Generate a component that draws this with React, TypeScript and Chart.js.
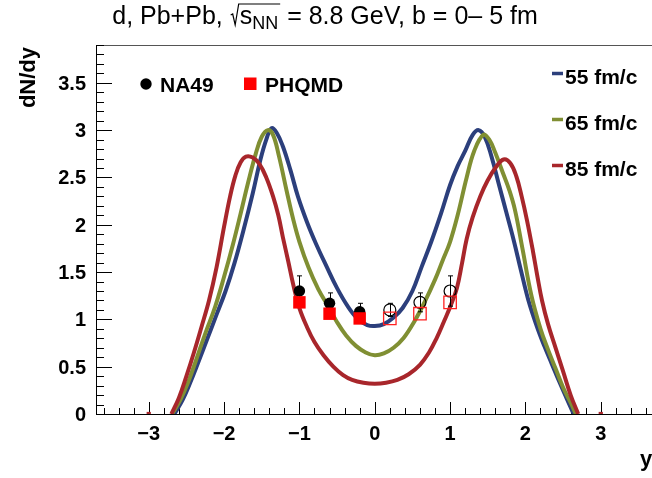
import React, { useEffect, useRef } from "react";
import { Chart, registerables } from "chart.js";
Chart.register(...registerables);

const FONT = '"Liberation Sans", Arial, Helvetica, sans-serif';

// ---- model curves (PHQMD, different times) ----
const x55 = [-2.66, -2.55, -2.45, -2.35, -2.22, -2.1, -1.98, -1.86, -1.74, -1.62, -1.52, -1.44, -1.37, -1.3, -1.22, -1.12, -1.02, -0.9, -0.78, -0.64, -0.5, -0.36, -0.22, -0.1, 0.0, 0.12, 0.25, 0.37, 0.5, 0.62, 0.75, 0.88, 1.0, 1.1, 1.2, 1.3, 1.38, 1.46, 1.55, 1.64, 1.74, 1.84, 1.94, 2.04, 2.15, 2.25, 2.35, 2.45, 2.55, 2.64];
const y55 = [0, 0.15, 0.33, 0.53, 0.8, 1.05, 1.3, 1.6, 1.95, 2.33, 2.68, 2.9, 3.02, 2.97, 2.83, 2.58, 2.3, 2.03, 1.8, 1.56, 1.33, 1.14, 1.0, 0.94, 0.93, 0.95, 1.02, 1.12, 1.3, 1.55, 1.82, 2.12, 2.42, 2.62, 2.78, 2.95, 3.0, 2.93, 2.72, 2.45, 2.15, 1.85, 1.52, 1.2, 0.93, 0.72, 0.53, 0.34, 0.16, 0];

const x65 = [-2.69, -2.58, -2.48, -2.38, -2.25, -2.12, -2.0, -1.88, -1.78, -1.68, -1.58, -1.5, -1.42, -1.35, -1.27, -1.17, -1.08, -1.0, -0.88, -0.75, -0.62, -0.5, -0.38, -0.25, -0.12, 0.0, 0.12, 0.25, 0.38, 0.52, 0.66, 0.8, 0.9, 1.0, 1.1, 1.22, 1.32, 1.44, 1.52, 1.6, 1.7, 1.78, 1.86, 1.96, 2.08, 2.2, 2.3, 2.4, 2.5, 2.6, 2.67];
const y65 = [0, 0.15, 0.33, 0.55, 0.85, 1.13, 1.45, 1.8, 2.12, 2.45, 2.75, 2.93, 3.0, 2.95, 2.72, 2.36, 2.05, 1.82, 1.55, 1.32, 1.14, 0.97, 0.83, 0.72, 0.65, 0.62, 0.64, 0.7, 0.8, 0.97, 1.18, 1.42, 1.62, 1.82, 2.1, 2.5, 2.78, 2.95, 2.9, 2.76, 2.55, 2.38, 2.16, 1.75, 1.25, 0.9, 0.68, 0.48, 0.28, 0.12, 0];

const x85 = [-2.7, -2.6, -2.5, -2.4, -2.3, -2.2, -2.1, -2.0, -1.92, -1.85, -1.78, -1.71, -1.62, -1.53, -1.44, -1.35, -1.28, -1.22, -1.15, -1.08, -1.0, -0.9, -0.8, -0.68, -0.55, -0.42, -0.3, -0.15, 0.0, 0.15, 0.3, 0.45, 0.6, 0.72, 0.82, 0.92, 1.0, 1.09, 1.16, 1.22, 1.3, 1.4, 1.5, 1.6, 1.71, 1.8, 1.88, 1.95, 2.02, 2.1, 2.16, 2.22, 2.3, 2.4, 2.5, 2.6, 2.7];
const y85 = [0, 0.17, 0.4, 0.65, 0.92, 1.2, 1.55, 1.98, 2.3, 2.52, 2.66, 2.72, 2.71, 2.64, 2.5, 2.3, 2.1, 1.87, 1.62, 1.36, 1.12, 0.92, 0.76, 0.62, 0.5, 0.41, 0.36, 0.33, 0.32, 0.33, 0.36, 0.42, 0.52, 0.65, 0.8, 0.98, 1.13, 1.33, 1.6, 1.85, 2.08, 2.3, 2.47, 2.6, 2.69, 2.65, 2.51, 2.3, 2.05, 1.72, 1.45, 1.2, 0.95, 0.7, 0.45, 0.2, 0];

const edgeX = [-3, 3];
const edgeY = [0, 0];

// ---- NA49 data (filled: measured, open: reflected) ----
const na49X = [-1.0, -0.6, -0.2];
const na49Y = [1.3, 1.17, 1.08];
const na49Err = [0.16, 0.11, 0.09];
const na49ReflX = [0.2, 0.6, 1.0];
const na49ReflY = [1.1, 1.18, 1.3];
const na49ReflErr = [0.07, 0.1, 0.16];

// ---- PHQMD at NA49 points ----
const phqX = [-1.0, -0.6, -0.2];
const phqY = [1.18, 1.06, 1.01];
const phqReflX = [0.2, 0.6, 1.0];
const phqReflY = [1.01, 1.06, 1.18];

// ---- axes ----
const xMajorTicks = [-3, -2, -1, 0, 1, 2, 3];
const xTickLabels = ["\u22123", "\u22122", "\u22121", "0", "1", "2", "3"];
const yMajorTicks = [0, 0.5, 1, 1.5, 2, 2.5, 3, 3.5];
const yTickLabels = ["0", "0.5", "1", "1.5", "2", "2.5", "3", "3.5"];
const legendTimes = ["55 fm/c", "65 fm/c", "85 fm/c"];

const C55 = "#2c3f7c";
const C65 = "#808f33";
const C85 = "#a8262b";
const curveColors = [C55, C65, C85];

const pts = (xs: number[], ys: number[]) => xs.map((x, i) => ({ x, y: ys[i] }));

function drawErrors(chart: any, xs: number[], ys: number[], es: number[]) {
  const ctx = chart.ctx;
  const sx = chart.scales.x, sy = chart.scales.y;
  ctx.save();
  ctx.strokeStyle = "#000";
  ctx.lineWidth = 1;
  xs.forEach((x, i) => {
    const px = Math.round(sx.getPixelForValue(x)) + 0.5;
    const top = sy.getPixelForValue(ys[i] + es[i]);
    const bot = sy.getPixelForValue(ys[i] - es[i]);
    ctx.beginPath();
    ctx.moveTo(px, top);
    ctx.lineTo(px, bot);
    ctx.moveTo(px - 2.5, top);
    ctx.lineTo(px + 2.5, top);
    ctx.moveTo(px - 2.5, bot);
    ctx.lineTo(px + 2.5, bot);
    ctx.stroke();
  });
  ctx.restore();
}

const decor = {
  id: "decor",
  beforeDatasetsDraw(chart: any) {
    const ctx = chart.ctx;
    const { left, right, top, bottom } = chart.chartArea;
    const sx = chart.scales.x, sy = chart.scales.y;
    ctx.save();
    ctx.strokeStyle = "#555";
    ctx.lineWidth = 1;
    ctx.beginPath();
    ctx.moveTo(left, top + 0.5);
    ctx.lineTo(right, top + 0.5);
    ctx.stroke();
    ctx.strokeStyle = "#000";
    ctx.beginPath();
    ctx.moveTo(left + 0.5, top);
    ctx.lineTo(left + 0.5, bottom);
    ctx.moveTo(left, bottom + 0.5);
    ctx.lineTo(right, bottom + 0.5);
    ctx.stroke();
    ctx.beginPath();
    for (let k = 0; k <= 39; k++) {
      const v = k / 10;
      const py = Math.round(sy.getPixelForValue(v)) + 0.5;
      const len = k % 5 === 0 ? 16 : 8;
      ctx.moveTo(left, py);
      ctx.lineTo(left + len, py);
    }
    for (let k = -18; k <= 18; k++) {
      const v = k / 5;
      const px = Math.round(sx.getPixelForValue(v)) + 0.5;
      const len = k % 5 === 0 ? 12 : 6;
      ctx.moveTo(px, bottom);
      ctx.lineTo(px, bottom - len);
    }
    ctx.stroke();
    ctx.restore();
  },
  beforeDatasetDraw(chart: any, args: any) {
    const ds = chart.data.datasets[args.index];
    if (ds.label === "NA49") drawErrors(chart, na49X, na49Y, na49Err);
    if (ds.label === "NA49 reflected") drawErrors(chart, na49ReflX, na49ReflY, na49ReflErr);
  },
  afterDraw(chart: any) {
    const ctx = chart.ctx;
    const { left, bottom } = chart.chartArea;
    const sx = chart.scales.x, sy = chart.scales.y;
    ctx.save();
    ctx.fillStyle = "#000";
    ctx.font = `bold 20px ${FONT}`;
    ctx.textAlign = "right";
    ctx.textBaseline = "alphabetic";
    yMajorTicks.forEach((v, i) => {
      ctx.fillText(yTickLabels[i], left - 10, sy.getPixelForValue(v) + 7);
    });
    ctx.textAlign = "center";
    xMajorTicks.forEach((v, i) => {
      ctx.fillText(xTickLabels[i], sx.getPixelForValue(v), bottom + 26);
    });
    ctx.font = `bold 22px ${FONT}`;
    ctx.textAlign = "left";
    ctx.fillText("y", 640, 466);
    ctx.save();
    ctx.translate(35, 47);
    ctx.rotate(-Math.PI / 2);
    ctx.textAlign = "right";
    ctx.fillText("dN/dy", 0, 0);
    ctx.restore();

    // left legend
    ctx.beginPath();
    ctx.arc(146, 84, 5.7, 0, Math.PI * 2);
    ctx.fill();
    ctx.fillStyle = "#ff0000";
    ctx.fillRect(244, 77.5, 12.5, 12.5);
    ctx.fillStyle = "#000";
    ctx.font = `bold 21px ${FONT}`;
    ctx.textAlign = "left";
    ctx.fillText("NA49", 160, 92);
    ctx.fillText("PHQMD", 265, 92);

    // right legend
    const ly = [73.5, 119.5, 165.5];
    legendTimes.forEach((t, i) => {
      ctx.strokeStyle = curveColors[i];
      ctx.lineWidth = 3.5;
      ctx.beginPath();
      ctx.moveTo(552, ly[i]);
      ctx.lineTo(563, ly[i]);
      ctx.stroke();
      ctx.fillStyle = "#000";
      ctx.fillText(t, 565, ly[i] + 10);
    });

    // title
    const fs = 25;
    const fMain = `${fs}px ${FONT}`;
    const fSub = `${Math.round(fs * 0.7)}px ${FONT}`;
    const p1 = "d, Pb+Pb, ";
    const p2 = "s";
    const p3 = "NN";
    const p4 = " = 8.8 GeV, b = 0\u2013 5 fm";
    ctx.font = fMain;
    const w1 = ctx.measureText(p1).width;
    const w2 = ctx.measureText(p2).width;
    const w4 = ctx.measureText(p4).width;
    ctx.font = fSub;
    const w3 = ctx.measureText(p3).width;
    const rad = 10;
    const total = w1 + rad + w2 + w3 + 2 + w4;
    let x = 325 - total / 2;
    const base = 24;
    ctx.fillStyle = "#000";
    ctx.textAlign = "left";
    ctx.font = fMain;
    ctx.fillText(p1, x, base);
    x += w1;
    ctx.strokeStyle = "#000";
    ctx.lineWidth = 1.2;
    ctx.beginPath();
    ctx.moveTo(x + 1, base - 9);
    ctx.lineTo(x + 3, base - 10);
    ctx.lineTo(x + 5.5, base + 1);
    ctx.lineTo(x + rad - 1, base - 20);
    ctx.lineTo(x + rad + w2 + w3 + 2, base - 20);
    ctx.stroke();
    x += rad;
    ctx.fillText(p2, x, base);
    x += w2;
    ctx.font = fSub;
    ctx.fillText(p3, x, base + 5);
    x += w3 + 2;
    ctx.font = fMain;
    ctx.fillText(p4, x, base);
    ctx.restore();
  },
};

export default function App() {
  const ref = useRef<HTMLCanvasElement | null>(null);
  useEffect(() => {
    document.body.style.margin = "0";
    const canvas = ref.current!;
    const curve = (label: string, xs: number[], ys: number[], color: string, order: number) => ({
      type: "line" as const,
      label,
      data: pts(xs, ys),
      borderColor: color,
      backgroundColor: color,
      borderWidth: 4,
      pointRadius: 0,
      showLine: true,
      fill: false,
      tension: 0.4,
      order,
    });
    const chart = new Chart(canvas, {
      type: "scatter",
      data: {
        datasets: [
          curve("55 fm/c", x55, y55, C55, 9),
          curve("65 fm/c", x65, y65, C65, 8),
          curve("85 fm/c", x85, y85, C85, 7),
          {
            label: "edges",
            data: pts(edgeX, edgeY),
            pointStyle: "rect",
            pointRadius: 3,
            backgroundColor: C85,
            borderWidth: 0,
            order: 6,
          },
          {
            label: "NA49 reflected",
            data: pts(na49ReflX, na49ReflY),
            pointStyle: "circle",
            pointRadius: 6,
            backgroundColor: "rgba(0,0,0,0)",
            borderColor: "#000",
            borderWidth: 1.2,
            order: 4,
          },
          {
            label: "PHQMD reflected",
            data: pts(phqReflX, phqReflY),
            pointStyle: "rect",
            pointRadius: 8.8,
            backgroundColor: "rgba(0,0,0,0)",
            borderColor: "#ff2020",
            borderWidth: 1.3,
            order: 3,
          },
          {
            label: "NA49",
            data: pts(na49X, na49Y),
            pointStyle: "circle",
            pointRadius: 5.7,
            backgroundColor: "#000",
            borderWidth: 0,
            order: 2,
          },
          {
            label: "PHQMD",
            data: pts(phqX, phqY),
            pointStyle: "rect",
            pointRadius: 8.8,
            backgroundColor: "#ff0000",
            borderWidth: 0,
            order: 1,
          },
        ],
      },
      options: {
        animation: false,
        responsive: false,
        maintainAspectRatio: false,
        layout: { autoPadding: false, padding: { left: 96, right: 0, top: 45, bottom: 64 } },
        scales: {
          x: { type: "linear", min: -3.7, max: 3.68, display: false },
          y: { type: "linear", min: 0, max: 3.9, display: false },
        },
        plugins: {
          legend: { display: false },
          tooltip: { enabled: false },
          title: { display: false },
        },
      },
      plugins: [decor],
    } as any);
    return () => chart.destroy();
  }, []);
  return <canvas ref={ref} width={652} height={478} style={{ display: "block" }} />;
}
